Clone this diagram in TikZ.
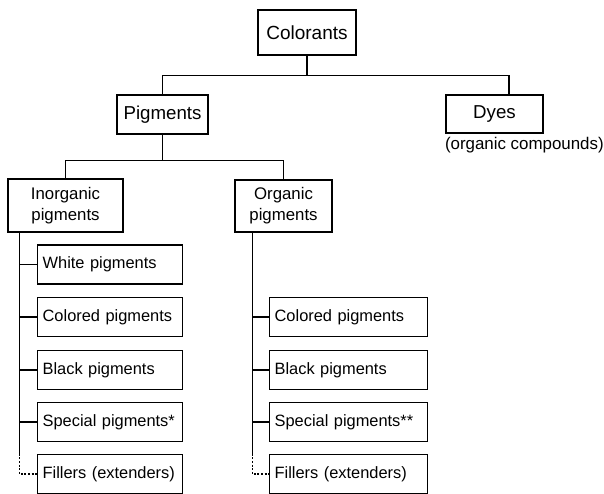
\documentclass[tikz,border=0pt]{standalone}
\usepackage{fontspec}
\setmainfont{Liberation Sans}
\usetikzlibrary{positioning, calc}

\newcommand{\topfont}{\fontsize{19}{22}\selectfont}
\newcommand{\midfont}{\fontsize{18.7}{22}\selectfont}
\newcommand{\boxfont}{\fontsize{16.8}{21}\selectfont}
\newcommand{\leaffont}{\fontsize{16.4}{20}\selectfont\hyphenpenalty=10000}

\begin{document}
\begin{tikzpicture}[x=1pt, y=-1pt, line width=1.3pt,
    box/.style={draw, inner sep=0pt, align=center, font=\boxfont},
    leaf/.style={draw, anchor=west, minimum height=39pt, inner xsep=5pt,
        inner ysep=0pt, align=left, font=\leaffont},
    dotline/.style={dash pattern=on 2pt off 1.6pt}]
    \useasboundingbox (0,0) rectangle (604,493);

    % top levels
    \node [box, font=\topfont, minimum width=98pt, minimum height=45pt]
        (colorants) at (307,32.5) {Colorants};
    \node [box, font=\midfont, minimum width=91pt, minimum height=39pt]
        (pigments) at (162.5,114.5) {Pigments};
    \node [box, font=\midfont, minimum width=97pt, minimum height=38pt]
        (dyes) at (494.5,114) {Dyes};
    \node [anchor=north west, inner sep=0pt, font=\fontsize{16.9}{19}\selectfont]
        (dyesnote) at ($(dyes.south west)+(-1,3)$) {(organic compounds)};
    \node [box, minimum width=115pt, minimum height=53pt]
        (inorg) at (65.5,205.5) {Inorganic\\pigments};
    \node [box, minimum width=97pt, minimum height=52pt]
        (org) at (283.5,206) {Organic\\pigments};

    % inorganic branch
    \node [leaf, text width=135pt] (iwhite) at (37,264.5) {White pigments};
    \node [leaf, text width=135pt] (icolored) at (37,317) {Colored pigments};
    \node [leaf, text width=135pt] (iblack) at (37,370) {Black pigments};
    \node [leaf, text width=135pt] (ispecial) at (37,422) {Special pigments*};
    \node [leaf, text width=135pt] (ifillers) at (37,474) {Fillers (extenders)};

    % organic branch
    \node [leaf, text width=148pt] (ocolored) at (269,317) {Colored pigments};
    \node [leaf, text width=148pt] (oblack) at (269,370) {Black pigments};
    \node [leaf, text width=148pt] (ospecial) at (269,422) {Special pigments**};
    \node [leaf, text width=148pt] (ofillers) at (269,474) {Fillers (extenders)};

    % connectors
    \coordinate (hub1) at ($(colorants.south)+(0,20)$);
    \coordinate (dyesin) at ($(dyes.north)+(14.5,0)$);
    \draw (colorants.south) -- (hub1);
    \draw (pigments.north) |- (hub1) -| (dyesin);

    \coordinate (hub2) at ($(pigments.south)+(0,26)$);
    \draw (pigments.south) -- (hub2);
    \draw (inorg.north) |- (hub2) -| (org.north);

    \coordinate (itrunk) at ($(inorg.south west)+(12,0)$);
    \coordinate (otrunk) at ($(org.south west)+(18,0)$);
    \draw (itrunk) -- (itrunk |- ifillers.north);
    \draw (otrunk) -- (otrunk |- ofillers.north);
    \foreach \n in {iwhite, icolored, iblack, ispecial}
        \draw (itrunk |- \n.west) -- (\n.west);
    \foreach \n in {ocolored, oblack, ospecial}
        \draw (otrunk |- \n.west) -- (\n.west);
    \draw [dotline] (itrunk |- ifillers.north) |- (ifillers.west);
    \draw [dotline] (otrunk |- ofillers.north) |- (ofillers.west);
\end{tikzpicture}
\end{document}
